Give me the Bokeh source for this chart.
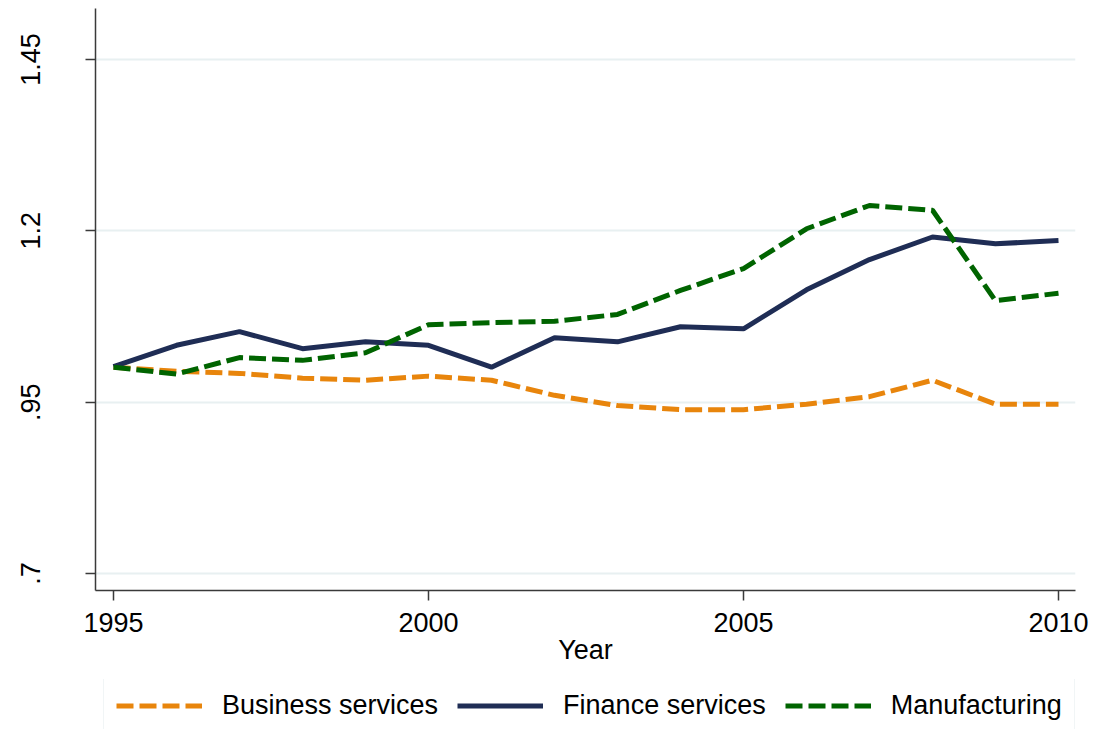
from bokeh.plotting import figure
from bokeh.models import FixedTicker, Legend, LegendItem, Range1d
from bokeh.layouts import column
from bokeh.embed import file_html
from bokeh.resources import INLINE

years = list(range(1995, 2011))
business = [1.001, 0.995, 0.992, 0.985, 0.982, 0.988, 0.982, 0.960, 0.945, 0.939,
            0.939, 0.947, 0.958, 0.982, 0.947, 0.947]
finance = [1.002, 1.033, 1.053, 1.028, 1.038, 1.033, 1.001, 1.044, 1.038, 1.060,
           1.057, 1.114, 1.158, 1.191, 1.181, 1.186]
manufacturing = [1.001, 0.991, 1.015, 1.011, 1.022, 1.063, 1.066, 1.068, 1.078, 1.113,
                 1.145, 1.203, 1.237, 1.230, 1.098, 1.109]

series_names = ["Business services", "Finance services", "Manufacturing"]
x_ticks = [1995, 2000, 2005, 2010]
y_ticks = [0.7, 0.95, 1.2, 1.45]
y_tick_labels = [".7", ".95", "1.2", "1.45"]

FONT = "Liberation Sans"
COLORS = ["#e8850c", "#1f2d55", "#006400"]
DASHES = ["17 6", "solid", "17 6"]
series = [business, finance, manufacturing]

main = figure(width=1094, height=679, output_backend="svg", toolbar_location=None,
              x_range=Range1d(1994.714, 2010.27), y_range=Range1d(0.6752, 1.5244),
              min_border_left=95, min_border_right=19, min_border_top=8,
              min_border_bottom=89)
main.outline_line_color = None
main.background_fill_color = "white"
main.border_fill_color = "white"

main.xgrid.grid_line_color = None
main.ygrid.ticker = FixedTicker(ticks=y_ticks)
main.ygrid.grid_line_color = "#e8f0f1"
main.ygrid.grid_line_width = 2

main.xaxis.ticker = FixedTicker(ticks=x_ticks)
main.yaxis.ticker = FixedTicker(ticks=y_ticks)
main.yaxis.major_label_overrides = {t: l for t, l in zip(y_ticks, y_tick_labels)}
main.yaxis.major_label_orientation = "vertical"
main.xaxis.axis_label = "Year"
for ax in (main.xaxis, main.yaxis):
    ax.axis_line_color = "#3a3a3a"
    ax.axis_line_width = 1.5
    ax.major_tick_line_color = "#3a3a3a"
    ax.major_tick_line_width = 1.5
    ax.major_tick_out = 10
    ax.major_tick_in = 0
    ax.minor_tick_line_color = None
    ax.major_label_text_font = FONT
    ax.major_label_text_font_size = "27px"
    ax.major_label_text_color = "black"
    ax.axis_label_text_font = FONT
    ax.axis_label_text_font_size = "27px"
    ax.axis_label_text_font_style = "normal"
    ax.axis_label_text_color = "black"
main.yaxis.major_label_standoff = 45
main.xaxis.major_label_standoff = 12
main.xaxis.axis_label_standoff = 0

for vals, c, d in zip(series, COLORS, DASHES):
    main.line(years, vals, line_color=c, line_width=5, line_dash=d)

# legend strip below the chart (its lines lie outside its visible ranges)
leg = figure(width=1094, height=50, output_backend="svg", toolbar_location=None,
             x_range=Range1d(0, 1), y_range=Range1d(0, 1),
             x_axis_type=None, y_axis_type=None,
             min_border_left=0, min_border_right=0, min_border_top=0,
             min_border_bottom=0)
leg.outline_line_color = None
leg.grid.visible = False
leg.background_fill_color = "white"
leg.border_fill_color = "white"
items = []
for name, vals, c, d in zip(series_names, series, COLORS, DASHES):
    r = leg.line(years, vals, line_color=c, line_width=5, line_dash=d)
    items.append(LegendItem(label=name, renderers=[r]))

legend = Legend(items=items, orientation="horizontal", location=(8, -5))
legend.label_text_font = FONT
legend.label_text_font_size = "27px"
legend.label_text_color = "black"
legend.glyph_width = 86
legend.glyph_height = 27
legend.label_height = 27
legend.label_standoff = 20
legend.spacing = 19
legend.padding = 12
legend.margin = 0
legend.border_line_color = "#e3ebee"
legend.border_line_width = 1.5
legend.background_fill_color = "white"
legend.background_fill_alpha = 1.0
leg.add_layout(legend, "center")

page = column(main, leg, spacing=0)
open("out.html", "w").write(file_html(page, INLINE))
